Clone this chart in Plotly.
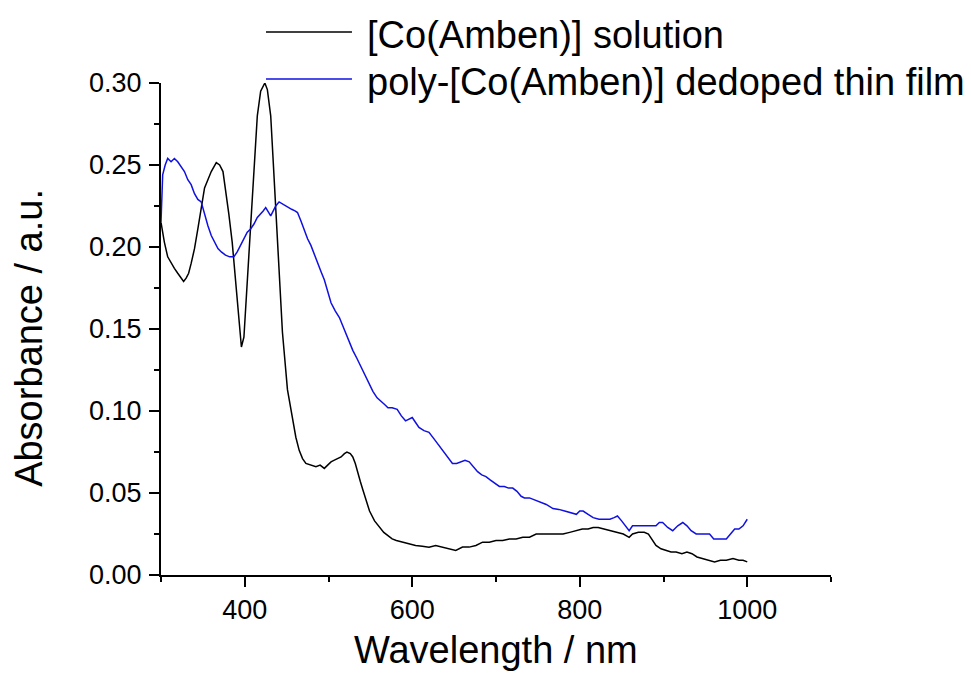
import plotly.graph_objects as go

series_names = ["[Co(Amben)] solution", "poly-[Co(Amben)] dedoped thin film"]
series_colors = ["#000000", "#1010e0"]

sol_wl = [300, 304, 308, 312, 316, 320, 324, 327, 330, 333, 336, 340, 344, 348, 352, 356, 360, 366, 370, 374,
          377, 381, 385, 389, 393, 396, 399, 403, 407, 411, 415, 419, 424, 427, 431, 434, 437, 441, 445, 451,
          457, 461, 465, 469, 473, 479, 485, 490, 495, 499, 503, 507, 511, 515, 519, 522, 526, 529, 532, 535,
          538, 541, 545, 549, 555, 561, 566, 571, 576, 581, 588, 596, 604, 612, 620, 628, 636, 644, 652, 660,
          668, 676, 684, 692, 700, 708, 716, 724, 732, 740, 748, 756, 764, 772, 780, 788, 796, 803, 810, 816,
          822, 830, 838, 845, 852, 859, 863, 870, 877, 882, 887, 891, 897, 903, 909, 915, 922, 928, 934, 940,
          947, 954, 961, 968, 975, 983, 990, 995, 1000]
sol_abs = [0.215, 0.203, 0.194, 0.190, 0.187, 0.184, 0.181, 0.179, 0.181, 0.184, 0.190, 0.199, 0.211, 0.224, 0.236, 0.241, 0.246, 0.2515, 0.250, 0.246,
           0.236, 0.220, 0.203, 0.180, 0.158, 0.139, 0.145, 0.180, 0.217, 0.250, 0.280, 0.295, 0.300, 0.296, 0.280, 0.252, 0.223, 0.180, 0.148, 0.113,
           0.094, 0.084, 0.076, 0.071, 0.068, 0.067, 0.066, 0.067, 0.065, 0.067, 0.069, 0.070, 0.071, 0.072, 0.074, 0.075, 0.074, 0.072, 0.068, 0.062,
           0.057, 0.052, 0.045, 0.039, 0.033, 0.029, 0.026, 0.024, 0.022, 0.021, 0.020, 0.019, 0.018, 0.0175, 0.017, 0.018, 0.017, 0.016, 0.015, 0.017,
           0.017, 0.018, 0.020, 0.020, 0.021, 0.021, 0.022, 0.022, 0.023, 0.023, 0.025, 0.025, 0.025, 0.025, 0.025, 0.026, 0.027, 0.028, 0.028, 0.029,
           0.029, 0.028, 0.027, 0.026, 0.025, 0.023, 0.025, 0.026, 0.026, 0.025, 0.021, 0.018, 0.016, 0.015, 0.014, 0.014, 0.013, 0.014, 0.013, 0.011,
           0.010, 0.009, 0.008, 0.009, 0.009, 0.010, 0.009, 0.009, 0.008]

film_wl = [300, 301, 302, 305, 308, 312, 316, 320, 324, 328, 332, 336, 340, 344, 348, 352, 356, 360, 364, 368,
           372, 377, 382, 387, 391, 395, 399, 403, 407, 411, 415, 419, 422, 425, 428, 431, 434, 437, 441, 446,
           451, 456, 460, 463, 467, 471, 475, 479, 484, 488, 491, 495, 499, 503, 508, 513, 517, 521, 525, 529,
           534, 539, 544, 549, 553, 558, 563, 567, 571, 576, 582, 587, 592, 596, 600, 604, 608, 614, 620, 626,
           632, 638, 644, 648, 653, 658, 663, 668, 673, 678, 683, 688, 693, 698, 704, 710, 715, 720, 725, 730,
           734, 740, 748, 754, 760, 768, 775, 782, 790, 796, 800, 804, 810, 816, 823, 830, 836, 841, 845, 850,
           855, 859, 863, 870, 877, 884, 891, 895, 899, 905, 911, 917, 923, 928, 933, 939, 945, 950, 955, 960,
           965, 970, 975, 980, 985, 990, 995, 1000]
film_abs = [0.215, 0.228, 0.244, 0.250, 0.254, 0.252, 0.254, 0.252, 0.249, 0.246, 0.241, 0.238, 0.2325, 0.229, 0.2275, 0.220, 0.213, 0.207, 0.203, 0.199,
            0.197, 0.195, 0.194, 0.194, 0.197, 0.201, 0.205, 0.209, 0.211, 0.214, 0.218, 0.220, 0.222, 0.224, 0.221, 0.219, 0.222, 0.225, 0.2275, 0.226,
            0.224, 0.223, 0.222, 0.221, 0.216, 0.210, 0.205, 0.201, 0.194, 0.189, 0.185, 0.180, 0.173, 0.166, 0.161, 0.157, 0.152, 0.147, 0.142, 0.137,
            0.132, 0.127, 0.121, 0.116, 0.112, 0.108, 0.106, 0.104, 0.102, 0.102, 0.101, 0.097, 0.094, 0.095, 0.096, 0.093, 0.090, 0.088, 0.087, 0.083,
            0.079, 0.075, 0.071, 0.068, 0.068, 0.069, 0.070, 0.069, 0.066, 0.063, 0.061, 0.060, 0.058, 0.056, 0.054, 0.054, 0.053, 0.053, 0.051, 0.048,
            0.047, 0.047, 0.0455, 0.044, 0.043, 0.0405, 0.040, 0.039, 0.038, 0.037, 0.039, 0.039, 0.037, 0.035, 0.034, 0.034, 0.034, 0.035, 0.036, 0.033,
            0.030, 0.027, 0.030, 0.030, 0.030, 0.030, 0.030, 0.032, 0.032, 0.029, 0.027, 0.030, 0.032, 0.030, 0.027, 0.025, 0.025, 0.025, 0.025, 0.022,
            0.022, 0.022, 0.022, 0.025, 0.028, 0.028, 0.030, 0.034]

x_title = "Wavelength / nm"
y_title = "Absorbance / a.u."
x_range = [300, 1100]
y_range = [0, 0.30]

FONT = "Liberation Sans, Arial, sans-serif"

fig = go.Figure()
for name, color, xs, ys in [(series_names[0], series_colors[0], sol_wl, sol_abs),
                            (series_names[1], series_colors[1], film_wl, film_abs)]:
    fig.add_trace(go.Scatter(x=xs, y=ys, mode="lines", name=name,
                             line=dict(color=color, width=1.5), showlegend=False))

axis_common = dict(showline=True, linecolor="black", linewidth=2, ticks="outside",
                   ticklen=10, tickwidth=2, tickcolor="black", showgrid=False, zeroline=False,
                   tickfont=dict(family=FONT, size=27, color="black"), mirror=False, automargin=False)

fig.update_xaxes(range=x_range, dtick=200, tick0=0,
                 minor=dict(dtick=100, ticks="outside", ticklen=5, tickwidth=2, tickcolor="black"),
                 **axis_common)
fig.update_yaxes(range=y_range, dtick=0.05, tick0=0, tickformat=".2f", ticklabelstandoff=2,
                 minor=dict(dtick=0.025, ticks="outside", ticklen=5, tickwidth=2, tickcolor="black"),
                 **axis_common)

# axis titles
fig.add_annotation(xref="paper", yref="paper", x=0.5, y=-0.1524, xanchor="center", yanchor="middle",
                   text=x_title, showarrow=False, font=dict(family=FONT, size=38, color="black"))
fig.add_annotation(xref="paper", yref="paper", x=-0.197, y=0.482, xanchor="center", yanchor="middle",
                   text=y_title, textangle=-90, showarrow=False, font=dict(family=FONT, size=38, color="black"))

# custom legend (long line samples like the original)
legend_rows = [1.1037, 1.0081]
for name, color, ly in zip(series_names, series_colors, legend_rows):
    fig.add_shape(type="line", xref="paper", yref="paper", x0=0.1567, x1=0.285, y0=ly, y1=ly,
                  line=dict(color=color, width=1.5))
    fig.add_annotation(xref="paper", yref="paper", x=0.3045, y=ly - 0.006, xanchor="left", yanchor="middle",
                       text=name, showarrow=False, font=dict(family=FONT, size=38, color="black"))

fig.update_layout(width=971, height=677, plot_bgcolor="white", paper_bgcolor="white",
                  margin=dict(l=161, r=140, t=83, b=102), showlegend=False)

fig.write_html("out.html")
